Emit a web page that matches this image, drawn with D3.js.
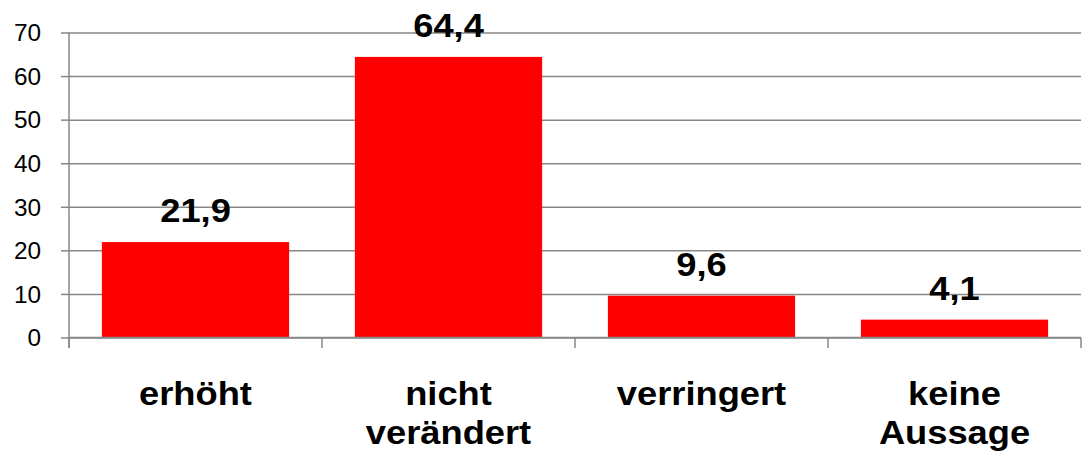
<!DOCTYPE html>
<html>
<head>
<meta charset="utf-8">
<script src="https://cdn.jsdelivr.net/npm/d3@7"></script>
<style>
  body { margin: 0; background: #fff; }
  text { font-family: "Liberation Sans", Arial, sans-serif; fill: #000; }
</style>
</head>
<body>
<div class="chart"></div>
<script>
const categories = [['erhöht'], ['nicht', 'verändert'], ['verringert'], ['keine', 'Aussage']];
const values = [21.9, 64.4, 9.6, 4.1];
const valueLabels = ['21,9', '64,4', '9,6', '4,1'];
const yTicks = [0, 10, 20, 30, 40, 50, 60, 70];

const margin = { top: 32.5, right: 4, bottom: 114.5, left: 69 },
    width = 1085 - margin.left - margin.right,
    height = 452 - margin.top - margin.bottom;

const stretch = 1.1;
const grey = '#878787';

const svg = d3.select('.chart')
    .append('svg')
    .attr('width', 1085)
    .attr('height', 452)
    .append('g')
    .attr('transform', `translate(${margin.left},${margin.top})`);

const x = d3.scaleBand()
    .domain(d3.range(categories.length))
    .range([0, width])
    .paddingInner(0.26)
    .paddingOuter(0.13);

const y = d3.scaleLinear()
    .domain([0, 70])
    .range([height, 0]);

// gridlines + y ticks
const yAxis = svg.append('g')
    .attr('class', 'y_axis')
    .call(d3.axisLeft(y).tickValues(yTicks).tickSize(8).tickPadding(17).tickFormat(d3.format('d')));
yAxis.select('.domain').remove();
yAxis.selectAll('line').attr('stroke', grey).attr('stroke-width', 1.5);
yAxis.selectAll('text')
    .attr('font-size', 23)
    .attr('dy', '0.36em')
    .attr('transform', function() {
        const xx = +d3.select(this).attr('x');
        return `translate(${xx * 0.06},0) scale(1.06,1)`;
    });
yAxis.selectAll('.tick')
    .append('line')
    .attr('x1', 0)
    .attr('x2', width)
    .attr('stroke', grey)
    .attr('stroke-width', 1.5);

// left axis line
svg.append('line')
    .attr('x1', 0).attr('x2', 0)
    .attr('y1', 0).attr('y2', height + 10.5)
    .attr('stroke', grey).attr('stroke-width', 1.5);

// category boundary ticks
const boundaries = d3.range(categories.length + 1).map(i => i * x.step());
svg.selectAll('.cat_tick')
    .data(boundaries)
    .join('line')
    .attr('class', 'cat_tick')
    .attr('x1', d => d).attr('x2', d => d)
    .attr('y1', height).attr('y2', height + 10.5)
    .attr('stroke', grey).attr('stroke-width', 1.5);

// bars
svg.selectAll('rect')
    .data(values)
    .join('rect')
    .attr('x', (d, i) => x(i))
    .attr('y', d => y(d))
    .attr('width', x.bandwidth())
    .attr('height', d => height - y(d))
    .attr('fill', '#ff0000');

// bottom axis line on top of bars
svg.append('line')
    .attr('x1', 0).attr('x2', width)
    .attr('y1', height).attr('y2', height)
    .attr('stroke', grey).attr('stroke-width', 1.5);

// value labels
svg.selectAll('.label')
    .data(values)
    .join('text')
    .attr('class', 'label')
    .attr('text-anchor', 'middle')
    .attr('font-weight', 'bold')
    .attr('font-size', 33)
    .attr('transform', (d, i) => `translate(${x(i) + x.bandwidth() / 2},${y(d) - 20}) scale(${stretch},1)`)
    .text((d, i) => valueLabels[i]);

// category labels
const catLabels = svg.selectAll('.cat_label')
    .data(categories)
    .join('text')
    .attr('class', 'cat_label')
    .attr('text-anchor', 'middle')
    .attr('font-weight', 'bold')
    .attr('font-size', 33)
    .attr('transform', (d, i) => `translate(${x(i) + x.bandwidth() / 2},${height + 67.5}) scale(${stretch},1)`);

catLabels.selectAll('tspan')
    .data(d => d)
    .join('tspan')
    .attr('x', 0)
    .attr('y', (d, i) => i * 39)
    .text(d => d);
</script>
</body>
</html>
